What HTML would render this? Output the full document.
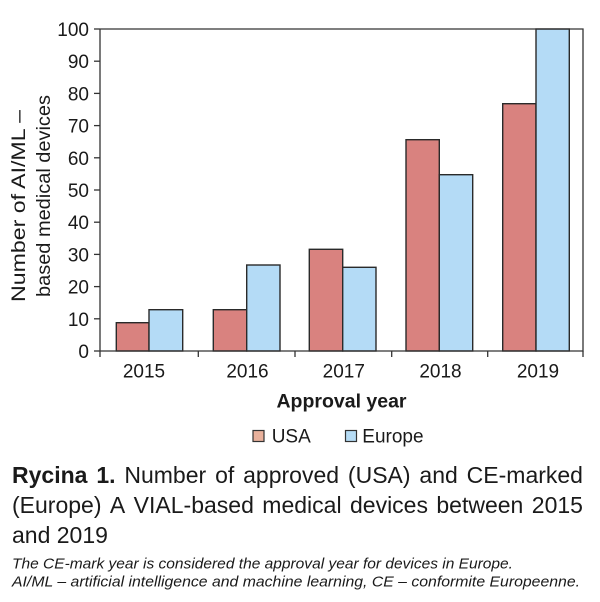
<!DOCTYPE html>
<html>
<head>
<meta charset="utf-8">
<style>
  html,body{margin:0;padding:0;background:#fff;}
  #wrap{position:relative;width:600px;height:602px;overflow:hidden;background:#fff;}
  svg{position:absolute;left:0;top:0;}
  .cap{position:absolute;left:12px;width:571px;display:flex;justify-content:space-between;
       font-family:"Liberation Sans",sans-serif;font-size:23px;line-height:23px;color:#1a1a1a;white-space:nowrap;}
  .cap b{font-weight:bold;}
</style>
</head>
<body>
<div id="wrap">
<svg width="600" height="602" viewBox="0 0 600 602" xmlns="http://www.w3.org/2000/svg" font-family="Liberation Sans, sans-serif" fill="#1a1a1a">
  <!-- bars -->
  <g stroke="#2a2a2a" stroke-width="1.4">
    <rect x="116.3" y="322.7" width="32.7" height="28.3" fill="#d9827f"/>
    <rect x="149" y="309.7" width="33.7" height="41.3" fill="#b4dbf6"/>
    <rect x="213.3" y="309.7" width="33.4" height="41.3" fill="#d9827f"/>
    <rect x="246.7" y="265" width="33.3" height="86" fill="#b4dbf6"/>
    <rect x="309.3" y="249.3" width="33.4" height="101.7" fill="#d9827f"/>
    <rect x="342.7" y="267.3" width="33.3" height="83.7" fill="#b4dbf6"/>
    <rect x="406" y="139.7" width="33.3" height="211.3" fill="#d9827f"/>
    <rect x="439.3" y="174.7" width="33.4" height="176.3" fill="#b4dbf6"/>
    <rect x="502.7" y="103.7" width="33.3" height="247.3" fill="#d9827f"/>
    <rect x="536" y="29" width="33.3" height="322" fill="#b4dbf6"/>
  </g>
  <!-- frame -->
  <g stroke="#333" stroke-width="1.3" fill="none">
    <polyline points="100,29 583,29 583,351 100,351 100,29"/>
    <!-- y ticks -->
    <line x1="94" y1="351" x2="100" y2="351"/>
    <line x1="94" y1="318.8" x2="100" y2="318.8"/>
    <line x1="94" y1="286.6" x2="100" y2="286.6"/>
    <line x1="94" y1="254.4" x2="100" y2="254.4"/>
    <line x1="94" y1="222.2" x2="100" y2="222.2"/>
    <line x1="94" y1="190" x2="100" y2="190"/>
    <line x1="94" y1="157.8" x2="100" y2="157.8"/>
    <line x1="94" y1="125.6" x2="100" y2="125.6"/>
    <line x1="94" y1="93.4" x2="100" y2="93.4"/>
    <line x1="94" y1="61.2" x2="100" y2="61.2"/>
    <line x1="94" y1="29" x2="100" y2="29"/>
    <!-- x ticks -->
    <line x1="100" y1="351" x2="100" y2="357"/>
    <line x1="198.3" y1="351" x2="198.3" y2="357"/>
    <line x1="295" y1="351" x2="295" y2="357"/>
    <line x1="391.7" y1="351" x2="391.7" y2="357"/>
    <line x1="487.7" y1="351" x2="487.7" y2="357"/>
    <line x1="583" y1="351" x2="583" y2="357"/>
  </g>
  <!-- y tick labels -->
  <g font-size="19" text-anchor="end">
    <text x="89" y="358">0</text>
    <text x="89" y="325.8">10</text>
    <text x="89" y="293.6">20</text>
    <text x="89" y="261.4">30</text>
    <text x="89" y="229.2">40</text>
    <text x="89" y="197">50</text>
    <text x="89" y="164.8">60</text>
    <text x="89" y="132.6">70</text>
    <text x="89" y="100.4">80</text>
    <text x="89" y="68.2">90</text>
    <text x="89" y="36">100</text>
  </g>
  <!-- x tick labels -->
  <g font-size="19" text-anchor="middle">
    <text x="144" y="377.3">2015</text>
    <text x="247.5" y="377.3">2016</text>
    <text x="343.8" y="377.3">2017</text>
    <text x="440.5" y="377.3">2018</text>
    <text x="538" y="377.3">2019</text>
  </g>
  <!-- axis titles -->
  <text x="341.5" y="407.3" font-size="19.5" font-weight="bold" text-anchor="middle">Approval year</text>
  <text transform="translate(25,206) rotate(-90)" font-size="19" text-anchor="middle" textLength="192" lengthAdjust="spacingAndGlyphs">Number of AI/ML –</text>
  <text transform="translate(50,196) rotate(-90)" font-size="19" text-anchor="middle" textLength="202" lengthAdjust="spacingAndGlyphs">based medical devices</text>
  <!-- legend -->
  <rect x="253" y="430.5" width="11" height="11" fill="#e9b19c" stroke="#333" stroke-width="1.2"/>
  <text x="271.7" y="442.7" font-size="19">USA</text>
  <rect x="345.5" y="430.5" width="11" height="11" fill="#b6dcf5" stroke="#333" stroke-width="1.2"/>
  <text x="362.3" y="442.7" font-size="19">Europe</text>
  <!-- footnote -->
  <g font-size="15" font-style="italic">
    <text x="12" y="568.3" textLength="501" lengthAdjust="spacingAndGlyphs">The CE-mark year is considered the approval year for devices in Europe.</text>
    <text x="12" y="586.7" textLength="568" lengthAdjust="spacingAndGlyphs">AI/ML – artificial intelligence and machine learning, CE – conformite Europeenne.</text>
  </g>
</svg>
<div class="cap" style="top:464px;"><span><b>Rycina</b></span><span><b>1.</b></span><span>Number</span><span>of</span><span>approved</span><span>(USA)</span><span>and</span><span>CE-marked</span></div>
<div class="cap" style="top:494px;"><span>(Europe)</span><span>A</span><span>VIAL-based</span><span>medical</span><span>devices</span><span>between</span><span>2015</span></div>
<div class="cap" style="top:523.5px;justify-content:flex-start;"><span>and 2019</span></div>
</div>
</body>
</html>
